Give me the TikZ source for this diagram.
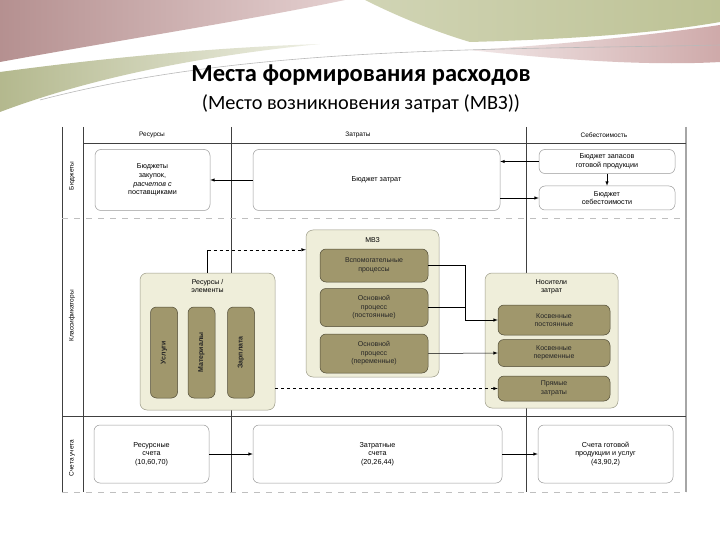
\documentclass[tikz,border=0pt]{standalone}
\usepackage{fontspec}
\setmainfont{Liberation Sans}
\newfontfamily\titlefont{Carlito}
\usetikzlibrary{positioning}
\usetikzlibrary{calc}
\definecolor{panelfill}{HTML}{EFEEDA}
\definecolor{paneldraw}{HTML}{9C9B88}
\definecolor{pillfill}{HTML}{A0976C}
\definecolor{pilldraw}{HTML}{4E4934}
\definecolor{rosetop}{HTML}{C9A0A0}
\definecolor{olivetop}{HTML}{BDC295}
\tikzstyle{box} = [draw=gray!80, rounded corners=6pt, fill=white, align=center, font=\fontsize{7.2}{8.7}\selectfont]
\tikzstyle{panel} = [draw=paneldraw, fill=panelfill, rounded corners=7pt]
\tikzstyle{pill} = [draw=pilldraw, fill=pillfill, rounded corners=6pt, align=center, text=black!85, font=\fontsize{7}{8.5}\selectfont]
\tikzstyle{vpill} = [pill, rotate=90, minimum width=91pt, minimum height=27pt, font=\fontsize{7}{8.5}\selectfont\bfseries]
\tikzstyle{ptitle} = [align=center, font=\fontsize{7}{8.5}\selectfont]
\tikzstyle{hdr} = [font=\fontsize{6.5}{7}\selectfont]
\tikzstyle{rowlab} = [font=\fontsize{6.5}{7}\selectfont, rotate=90]
\tikzstyle{frameline} = [draw=black!75, line width=0.5pt]
\tikzstyle{faint} = [draw=gray!50, dash pattern=on 6pt off 6pt]

\begin{document}
\begin{tikzpicture}[x=1pt,y=-1pt,>=latex,line width=0.5pt]
    \useasboundingbox[fill=white] (0,0) rectangle (720,540);
    % slide background
    \shade[left color=rosetop!90!black, right color=rosetop!50] (0,0) -- (345,0) .. controls (250,20) and (120,40) .. (0,62) -- cycle;
    \shade[left color=olivetop!70, right color=olivetop] (365,0) -- (720,0) -- (720,22) .. controls (640,36) and (540,40) .. (470,42) .. controls (430,30) and (395,15) .. (365,0) -- cycle;
    \shade[left color=rosetop!25, right color=rosetop!90] (470,50) .. controls (560,45) and (650,35) .. (720,25) -- (720,62) .. controls (650,66) and (560,60) .. (470,50) -- cycle;
    \shade[left color=olivetop!95!black, right color=olivetop!25] (0,72) .. controls (90,60) and (200,48) .. (320,44) .. controls (200,56) and (90,78) .. (0,112) -- cycle;
    \draw[gray!55, line width=0.6pt] (40,100) .. controls (250,45) and (500,50) .. (720,45);

    \node[font=\titlefont\bfseries\fontsize{24.5}{28}\selectfont] (title) at (361,75) {Места формирования расходов};
    \node[font=\titlefont\fontsize{20.3}{24}\selectfont] (subtitle) at (361,104) {(Место возникновения затрат (МВЗ))};

    % table
    \foreach \x in {62,83,231,526}
        \draw[frameline] (\x,127) -- (\x,492);
    \draw[gray!70, line width=1.5pt] (686,127) -- (686,492);
    \draw[frameline] (83,143) -- (686,143);
    \draw[frameline] (62,416) -- (686,416);
    \draw[faint] (62,218) -- (686,218);
    \draw[faint] (62,492) -- (686,492);

    \node[hdr] (hres) at (152,135) {Ресурсы};
    \node[hdr] (hzat) at (358,135) {Затраты};
    \node[hdr] (hseb) at (604,135) {Себестоимость};
    \node[rowlab] (lbud) at (72,176) {Бюджеты};
    \node[rowlab] (lkl) at (72,316) {Классификаторы};
    \node[rowlab] (lsch) at (72,458) {Счета учета};

    % budgets
    \node[box, minimum width=115pt, minimum height=61pt] (bzak) at (152.5,180) {Бюджеты\\закупок,\\\textit{расчетов с}\\поставщиками};
    \node[box, minimum width=247pt, minimum height=61pt] (bzat) at (376.5,180) {Бюджет затрат};
    \node[box, minimum width=136pt, minimum height=24pt] (bzap) at (607,161.5) {Бюджет запасов\\готовой продукции};
    \node[box, minimum width=136pt, minimum height=24pt, below=12pt of bzap] (bseb) {Бюджет\\себестоимости};

    % classifiers
    \node[panel, minimum width=135pt, minimum height=137pt] (res) at (207.5,341.5) {};
    \node[ptitle, below=3pt of res.north] (restit) {Ресурсы /\\элементы};
    \node[vpill] (usl) at (164,352.5) {Услуги};
    \node[vpill] (mat) at (201.5,352.5) {Материалы};
    \node[vpill] (zarp) at (241,352.5) {Зарплата};

    \node[panel, minimum width=133pt, minimum height=147pt] (mvz) at (372.5,303.5) {};
    \node[ptitle, below=4pt of mvz.north] (mvztit) {МВЗ};
    \node[pill, minimum width=108pt, minimum height=33pt] (p1) at (374,265.5) {Вспомогательные\\процессы};
    \node[pill, minimum width=108pt, minimum height=38pt, below=6pt of p1] (p2) {Основной\\процесс\\(постоянные)};
    \node[pill, minimum width=108pt, minimum height=39pt, below=7pt of p2] (p3) {Основной\\процесс\\(переменные)};

    \node[panel, minimum width=133pt, minimum height=135pt] (nos) at (551.5,340.5) {};
    \node[ptitle, below=3pt of nos.north] (nostit) {Носители\\затрат};
    \node[pill, minimum width=112pt, minimum height=30pt] (k1) at (554,320) {Косвенные\\постоянные};
    \node[pill, minimum width=112pt, minimum height=27pt, below=4pt of k1] (k2) {Косвенные\\переменные};
    \node[pill, minimum width=112pt, minimum height=25pt, below=9pt of k2] (k3) {Прямые\\затраты};

    % accounts
    \node[box, minimum width=115pt, minimum height=58pt] (rsch) at (151.5,454) {Ресурсные\\счета\\(10,60,70)};
    \node[box, minimum width=249pt, minimum height=58pt] (zsch) at (377.5,454) {Затратные\\счета\\(20,26,44)};
    \node[box, minimum width=135pt, minimum height=58pt] (gsch) at (605.5,454) {Счета готовой\\продукции и услуг\\(43,90,2)};

    \draw[->] (bzat.west) -- (bzak.east);
    \draw[->] (bzap.west) -- (bzap.west -| bzat.east);
    \draw[->] (bseb.west -| bzat.east) -- (bseb.west);
    \draw[->] (bzap) -- (bseb);

    \draw (res.north) -- ++(0,-23) coordinate (rtop);
    \draw[dashed,->] (rtop) -- (rtop -| mvz.west);
    \draw[dashed,->] (k3.west -| res.east) -- (k3.west);

    \coordinate (join) at (465,320);
    \draw[->] (p1.east) -| (join) -- (k1.west);
    \draw (p2.east) -- (p2.east -| join);
    \draw[->] (p3.east) -- (k2.west);

    \draw[->] (rsch) -- (zsch);
    \draw[->] (zsch) -- (gsch);
\end{tikzpicture}
\end{document}
